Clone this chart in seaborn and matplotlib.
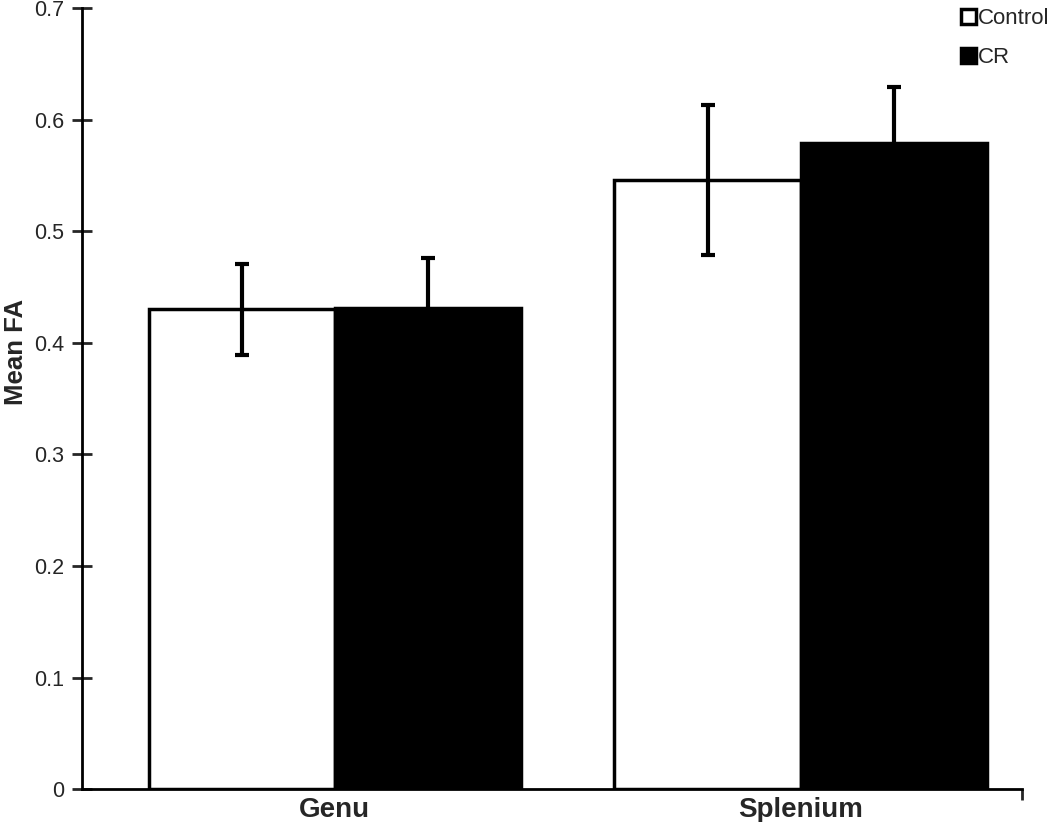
import matplotlib
matplotlib.use("Agg")
import matplotlib.pyplot as plt
import seaborn as sns
import pandas as pd
import numpy as np

# values
regions = ["Genu", "Splenium"]
groups = ["Control", "CR"]
control_mean = [0.430, 0.546]
cr_mean = [0.431, 0.579]
control_err = [0.041, 0.067]
cr_err = [0.045, 0.050]

df = pd.DataFrame({
    "region": regions * 2,
    "group": [groups[0]] * 2 + [groups[1]] * 2,
    "fa": control_mean + cr_mean,
    "err": control_err + cr_err,
})

sns.set_style("white")
plt.rcParams["font.family"] = ["Liberation Sans", "DejaVu Sans"]

fig = plt.figure(figsize=(10.5, 8.22), dpi=100)
ax = fig.add_axes([0.078, 0.04, 0.895, 0.95])

sns.barplot(data=df, x="region", y="fa", hue="group", hue_order=groups,
            palette={"Control": "white", "CR": "black"}, width=0.8,
            errorbar=None, edgecolor="black", linewidth=2.5, saturation=1,
            ax=ax)

# error bars placed on the bars seaborn drew
for cont, g in zip(ax.containers, groups):
    sub = df[df["group"] == g].set_index("region").loc[regions]
    xs = [p.get_x() + p.get_width() / 2 for p in cont.patches]
    ax.errorbar(xs, sub["fa"].values, yerr=sub["err"].values, fmt="none",
                ecolor="black", elinewidth=3, capsize=5, capthick=3, zorder=5)

ax.set_ylim(0, 0.7)
ax.set_yticks(np.arange(0, 0.71, 0.1))
ax.set_yticklabels(["0"] + [f"{v:.1f}" for v in np.arange(0.1, 0.71, 0.1)])
ax.set_xlim(-0.543, 1.474)

for s in ["top", "right"]:
    ax.spines[s].set_visible(False)
for s in ["left", "bottom"]:
    ax.spines[s].set_color("black")
    ax.spines[s].set_linewidth(2)

ax.tick_params(axis="y", direction="inout", length=14, width=2,
               labelsize=15.5, pad=6, left=True)
ax.tick_params(axis="x", which="major", length=0, labelsize=20, pad=6)
ax.set_xticks([1.474], minor=True)
ax.tick_params(axis="x", which="minor", direction="out", length=8, width=2, bottom=True)
for t in ax.get_xticklabels():
    t.set_fontweight("bold")

ax.set_xlabel("")
ax.set_ylabel("Mean FA", fontsize=18.5, fontweight="bold")
ax.yaxis.set_label_coords(-0.057, 0.56)

ax.legend(frameon=False, loc="upper left", bbox_to_anchor=(961 / 1050, 1 - 8 / 822),
          bbox_transform=fig.transFigure, borderpad=0, borderaxespad=0,
          fontsize=16, handlelength=0.68, handleheight=0.68, handletextpad=0.1,
          labelspacing=0.82)

fig.savefig("out.png", dpi=100)
